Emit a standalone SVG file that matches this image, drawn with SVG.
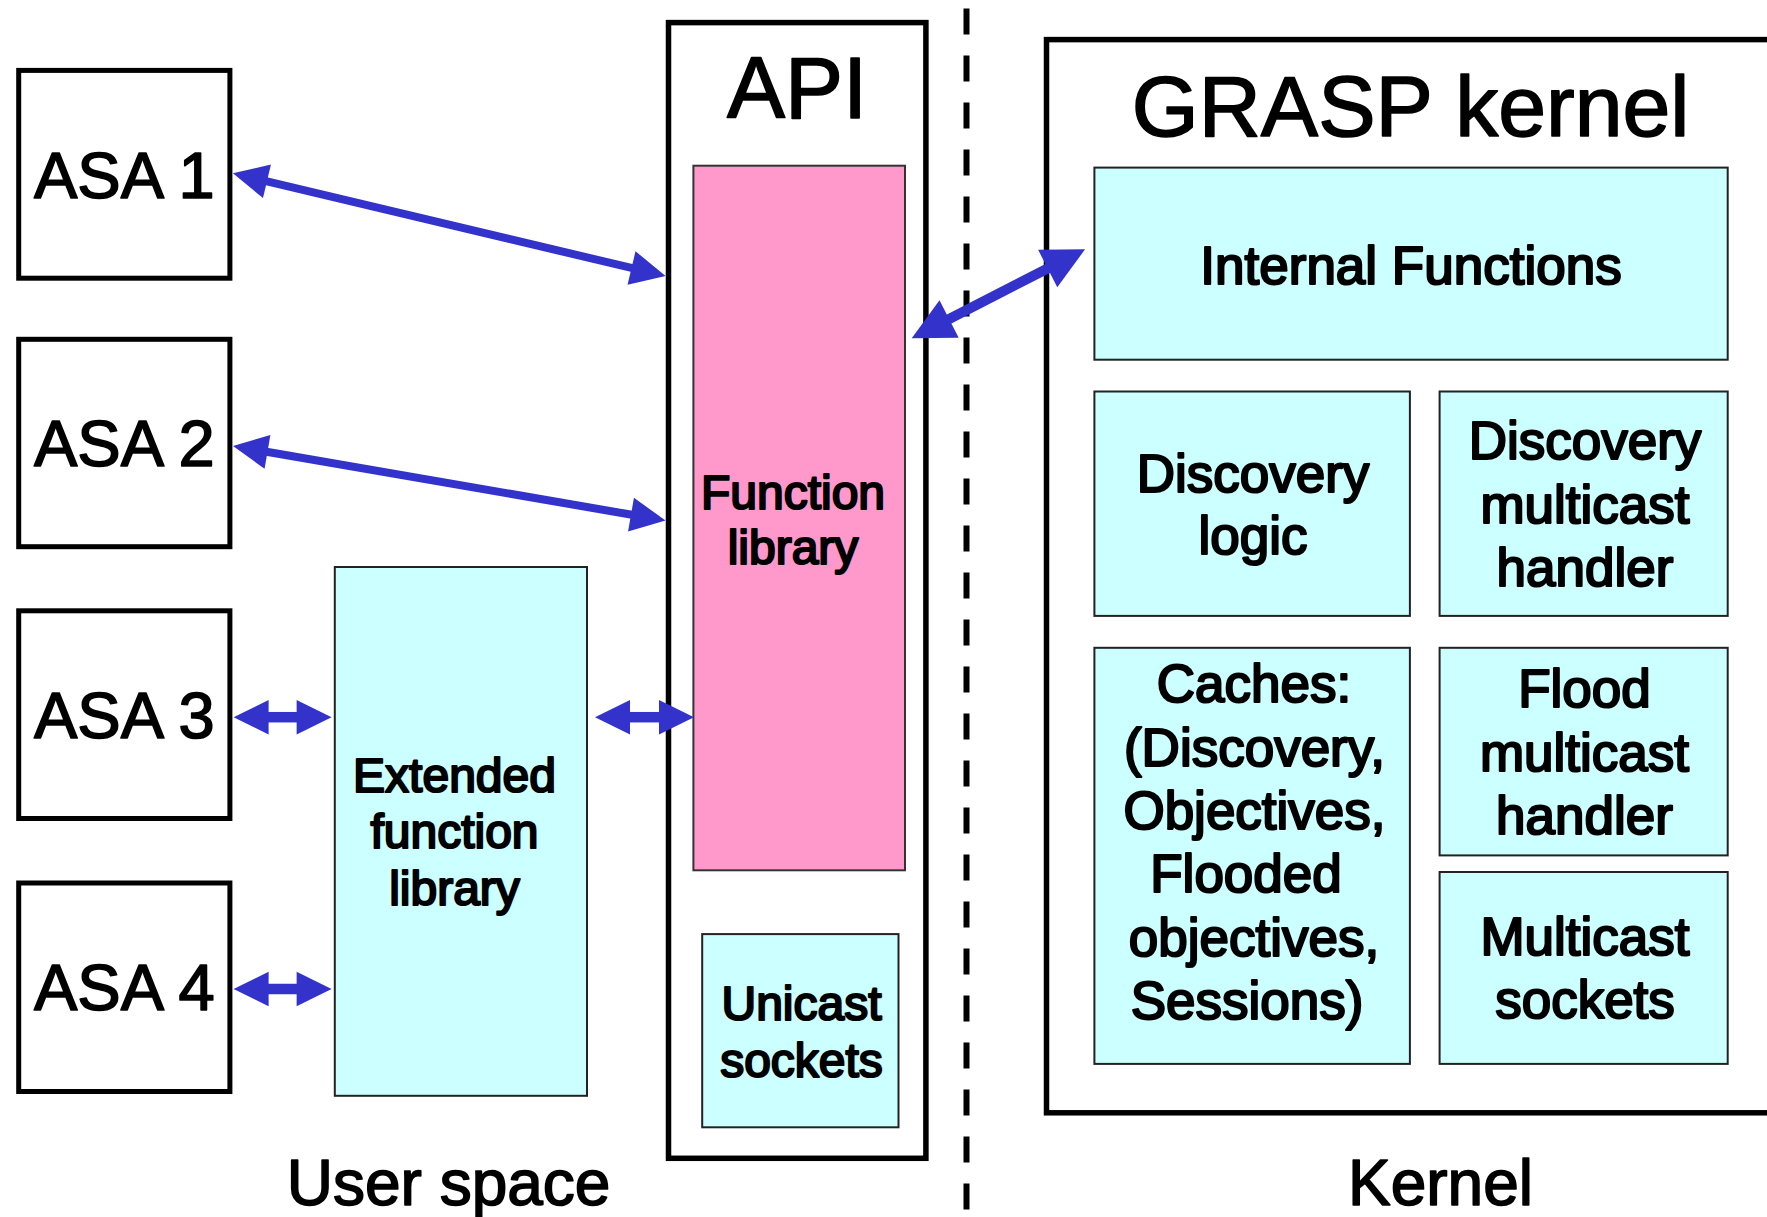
<svg xmlns="http://www.w3.org/2000/svg" width="1767" height="1217" viewBox="0 0 1767 1217">
  <style>
    .frame { fill: #ffffff; stroke: #000000; stroke-width: 5.5; }
    .asa { fill: #ffffff; stroke: #000000; stroke-width: 5; }
    .cyan { fill: #ccffff; stroke: #222222; stroke-width: 2; }
    .pink { fill: #ff99cc; stroke: #333333; stroke-width: 2; }
    .title { font-family: "Liberation Sans", Arial, sans-serif; fill: #000000; stroke: #000000; stroke-width: 1.6; stroke-linejoin: round; text-anchor: middle; }
    .lbl { font-family: "Liberation Sans", Arial, sans-serif; fill: #000000; stroke: #000000; stroke-width: 2.2; stroke-linejoin: round; text-anchor: middle; }
    .k { font-size: 53px; }
    .u { font-size: 48px; }
    .wire { fill: none; stroke: #3333cc; }
    .divider { fill: none; stroke: #000000; stroke-width: 6; stroke-dasharray: 26 21; }
  </style>
  <defs>
    <marker id="head" markerUnits="userSpaceOnUse" viewBox="0 -18 36 36" markerWidth="36" markerHeight="36" refX="1" refY="0" orient="auto-start-reverse" overflow="visible">
      <path d="M0,-17.2 L35,0 L0,17.2 z" fill="#3333cc"/>
    </marker>
    <marker id="head-lg" markerUnits="userSpaceOnUse" viewBox="0 -22 44 44" markerWidth="44" markerHeight="44" refX="1" refY="0" orient="auto-start-reverse" overflow="visible">
      <path d="M0,-21 L42,0 L0,21 z" fill="#3333cc"/>
    </marker>
  </defs>

  <rect width="1767" height="1217" fill="#ffffff"/>

  <!-- user space / kernel divider -->
  <line class="divider" x1="966.5" y1="8.4" x2="966.5" y2="1217"/>

  <!-- applications -->
  <g id="asa1">
    <rect class="asa" x="18.7" y="70.4" width="211.2" height="207.8"/>
    <text class="title" x="124.3" y="198.2" font-size="65">ASA 1</text>
  </g>
  <g id="asa2">
    <rect class="asa" x="18.7" y="339.3" width="211.2" height="207.4"/>
    <text class="title" x="124.3" y="466" font-size="65">ASA 2</text>
  </g>
  <g id="asa3">
    <rect class="asa" x="18.7" y="610.8" width="211.2" height="207.7"/>
    <text class="title" x="124.3" y="738" font-size="65">ASA 3</text>
  </g>
  <g id="asa4">
    <rect class="asa" x="18.7" y="883" width="211.2" height="208.5"/>
    <text class="title" x="124.3" y="1010.3" font-size="65">ASA 4</text>
  </g>

  <g id="extended-library">
    <rect class="cyan" x="334.8" y="567" width="252.2" height="528.8"/>
    <text class="lbl u" x="454.5" y="791.5">Extended</text>
    <text class="lbl u" x="454.5" y="847.5">function</text>
    <text class="lbl u" x="454.5" y="904.5">library</text>
  </g>

  <!-- API layer -->
  <g id="api">
    <rect class="frame" x="668.5" y="22.6" width="257.4" height="1135.7"/>
    <text class="title" x="797" y="118" font-size="87">API</text>
  </g>
  <g id="function-library">
    <rect class="pink" x="693.4" y="165.7" width="211.6" height="704.6"/>
    <text class="lbl u" x="793" y="508.5">Function</text>
    <text class="lbl u" x="793" y="564">library</text>
  </g>
  <g id="unicast-sockets">
    <rect class="cyan" x="702.2" y="934.1" width="196.3" height="193.2"/>
    <text class="lbl u" x="801.5" y="1020">Unicast</text>
    <text class="lbl u" x="801.5" y="1076.5">sockets</text>
  </g>

  <!-- GRASP kernel -->
  <g id="grasp-kernel">
    <rect class="frame" x="1046.5" y="39.6" width="760" height="1073.2"/>
    <text class="title" x="1410.6" y="136" font-size="86">GRASP kernel</text>
  </g>
  <g id="internal-functions">
    <rect class="cyan" x="1094.4" y="167.6" width="633.3" height="192.1"/>
    <text class="lbl k" x="1411" y="283.5">Internal Functions</text>
  </g>
  <g id="discovery-logic">
    <rect class="cyan" x="1094.4" y="391.5" width="315.5" height="224.4"/>
    <text class="lbl k" x="1253" y="492">Discovery</text>
    <text class="lbl k" x="1253" y="554">logic</text>
  </g>
  <g id="discovery-multicast-handler">
    <rect class="cyan" x="1439.6" y="391.5" width="288.1" height="224.4"/>
    <text class="lbl k" x="1585" y="459">Discovery</text>
    <text class="lbl k" x="1585" y="522.5">multicast</text>
    <text class="lbl k" x="1585" y="586">handler</text>
  </g>
  <g id="caches">
    <rect class="cyan" x="1094.4" y="647.8" width="315.5" height="416.1"/>
    <text class="lbl k" x="1254" y="702">Caches:</text>
    <text class="lbl k" x="1254.5" y="765.5">(Discovery,</text>
    <text class="lbl k" x="1254.5" y="829">Objectives,</text>
    <text class="lbl k" x="1246" y="892">Flooded</text>
    <text class="lbl k" x="1254" y="955.5">objectives,</text>
    <text class="lbl k" x="1247" y="1019">Sessions)</text>
  </g>
  <g id="flood-multicast-handler">
    <rect class="cyan" x="1439.6" y="647.8" width="288.1" height="207.6"/>
    <text class="lbl k" x="1584.5" y="706.5">Flood</text>
    <text class="lbl k" x="1584.5" y="770.5">multicast</text>
    <text class="lbl k" x="1584.5" y="834">handler</text>
  </g>
  <g id="multicast-sockets">
    <rect class="cyan" x="1439.6" y="872" width="288.1" height="191.9"/>
    <text class="lbl k" x="1585" y="955">Multicast</text>
    <text class="lbl k" x="1585" y="1018">sockets</text>
  </g>

  <!-- region captions -->
  <text class="title" x="448.6" y="1205" font-size="64">User space</text>
  <text class="title" x="1440.5" y="1205" font-size="64">Kernel</text>

  <!-- bidirectional connectors -->
  <g id="connectors">
    <line class="wire" stroke-width="8" x1="266" y1="181.1" x2="632.5" y2="268.2" marker-start="url(#head)" marker-end="url(#head)"/>
    <line class="wire" stroke-width="8" x1="266.5" y1="451.7" x2="632" y2="514.8" marker-start="url(#head)" marker-end="url(#head)"/>
    <line class="wire" stroke-width="10.5" x1="267.6" y1="717.2" x2="297.6" y2="717.2" marker-start="url(#head)" marker-end="url(#head)"/>
    <line class="wire" stroke-width="10.5" x1="267.6" y1="989" x2="297.6" y2="989" marker-start="url(#head)" marker-end="url(#head)"/>
    <line class="wire" stroke-width="10.5" x1="629" y1="717.2" x2="660" y2="717.2" marker-start="url(#head)" marker-end="url(#head)"/>
    <line class="wire" stroke-width="10" x1="948.2" y1="319.5" x2="1048.6" y2="268" marker-start="url(#head-lg)" marker-end="url(#head-lg)"/>
  </g>
</svg>
